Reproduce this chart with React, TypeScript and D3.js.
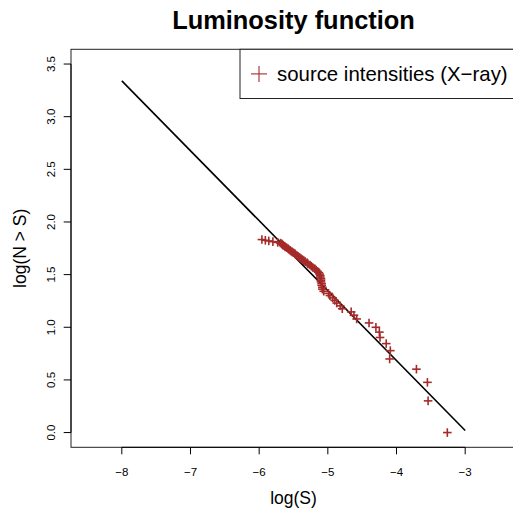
import React from "react";
import * as d3 from "d3";

// data: log(S) and log(N > S) for the source intensities
const logS = [
  -3.26, -3.54, -3.55, -3.71, -4.10, -4.09, -4.15, -4.24, -4.25, -4.30,
  -4.40, -4.58, -4.62, -4.66, -4.79, -4.82, -4.87, -4.90, -4.93, -4.97,
  -4.99, -5.06, -5.08, -5.08, -5.09, -5.09, -5.10, -5.10, -5.10, -5.11,
  -5.11, -5.12, -5.13, -5.15, -5.17, -5.19, -5.22, -5.24, -5.26, -5.29,
  -5.30, -5.33, -5.35, -5.37, -5.39, -5.41, -5.43, -5.45, -5.47, -5.48,
  -5.50, -5.52, -5.54, -5.55, -5.57, -5.58, -5.60, -5.62, -5.63, -5.65,
  -5.66, -5.67, -5.69, -5.73, -5.80, -5.86, -5.91, -5.96,
];
const logN = [
  0, 0.301, 0.477, 0.602, 0.699, 0.778, 0.845, 0.903, 0.954, 1.0,
  1.041, 1.079, 1.114, 1.146, 1.176, 1.204, 1.23, 1.255, 1.279, 1.301,
  1.322, 1.342, 1.362, 1.38, 1.398, 1.415, 1.431, 1.447, 1.462, 1.477,
  1.491, 1.505, 1.519, 1.531, 1.544, 1.556, 1.568, 1.58, 1.591, 1.602,
  1.613, 1.623, 1.633, 1.643, 1.653, 1.663, 1.672, 1.681, 1.69, 1.699,
  1.708, 1.716, 1.724, 1.732, 1.74, 1.748, 1.756, 1.763, 1.771, 1.778,
  1.785, 1.792, 1.799, 1.806, 1.813, 1.82, 1.826, 1.833,
];
// fitted line endpoints
const fitX = [-8, -3];
const fitY = [3.34, 0.02];

const xTicks = [-8, -7, -6, -5, -4, -3];
const yTicks = [0, 0.5, 1, 1.5, 2, 2.5, 3, 3.5];

const W = 513;
const H = 509;
const FONT = "'Liberation Sans', Arial, Helvetica, sans-serif";
const PT_COLOR = "#A52A2A";

export default function App() {
  const left = 71, right = 516, top = 49.3, bottom = 447.3;
  const x = d3.scaleLinear().domain([-8.74, -2.26]).range([left, right]);
  const y = d3.scaleLinear().domain([-0.14, 3.64]).range([bottom, top]);
  const line = d3.line<number>().x((d) => x(fitX[d])).y((d) => y(fitY[d]));
  const fmtY = (v: number) => v.toFixed(1);
  const fmtX = (v: number) => String(v).replace("-", "\u2212");
  const ps = 4.3;
  const yMid = (top + bottom) / 2;
  const xMid = (left + right) / 2;
  const legBottom = 98.5;
  const legMid = (top + legBottom) / 2;

  return (
    <svg
      width={W}
      height={H}
      style={{ position: "absolute", left: 0, top: 0, background: "#fff" }}
      fontFamily={FONT}
    >
      <rect x={0} y={0} width={W} height={H} fill="#fff" />
      {/* title */}
      <text x={xMid} y={29} textAnchor="middle" fontSize={25.4} fontWeight="bold">
        Luminosity function
      </text>
      {/* plot box */}
      <rect x={left} y={top} width={right - left} height={bottom - top} fill="none" stroke="#222" strokeWidth={1} />
      {/* x axis */}
      <line x1={x(xTicks[0])} x2={x(xTicks[xTicks.length - 1])} y1={bottom} y2={bottom} stroke="#000" />
      {xTicks.map((t) => (
        <g key={"xt" + t}>
          <line x1={x(t)} x2={x(t)} y1={bottom} y2={bottom + 7} stroke="#000" />
          <text x={x(t)} y={476} textAnchor="middle" fontSize={11.5}>
            {fmtX(t)}
          </text>
        </g>
      ))}
      {/* y axis */}
      <line x1={left} x2={left} y1={y(yTicks[0])} y2={y(yTicks[yTicks.length - 1])} stroke="#000" />
      {yTicks.map((t) => (
        <g key={"yt" + t}>
          <line x1={left} x2={left - 7.3} y1={y(t)} y2={y(t)} stroke="#000" />
          <text
            transform={`translate(55,${y(t)}) rotate(-90)`}
            textAnchor="middle"
            fontSize={11.5}
          >
            {fmtY(t)}
          </text>
        </g>
      ))}
      {/* axis labels */}
      <text x={xMid} y={504} textAnchor="middle" fontSize={17.5}>
        log(S)
      </text>
      <text transform={`translate(26,${yMid}) rotate(-90)`} textAnchor="middle" fontSize={17.5}>
        log(N &gt; S)
      </text>
      {/* fitted line */}
      <path d={line([0, 1]) || ""} fill="none" stroke="#000" strokeWidth={1.6} />
      {/* points */}
      {logS.map((v, i) => (
        <g key={"p" + i} stroke={PT_COLOR} strokeWidth={1.6}>
          <line x1={x(v) - ps} x2={x(v) + ps} y1={y(logN[i])} y2={y(logN[i])} />
          <line x1={x(v)} x2={x(v)} y1={y(logN[i]) - ps} y2={y(logN[i]) + ps} />
        </g>
      ))}
      {/* legend */}
      <rect x={240} y={top} width={right - 240} height={legBottom - top} fill="#fff" stroke="#222" strokeWidth={1} />
      <g stroke={PT_COLOR} strokeWidth={1.1}>
        <line x1={251} x2={267} y1={legMid} y2={legMid} />
        <line x1={259} x2={259} y1={legMid - 8} y2={legMid + 8} />
      </g>
      <text x={277} y={legMid + 7} fontSize={20.4}>
        source intensities (X{"\u2212"}ray)
      </text>
    </svg>
  );
}
